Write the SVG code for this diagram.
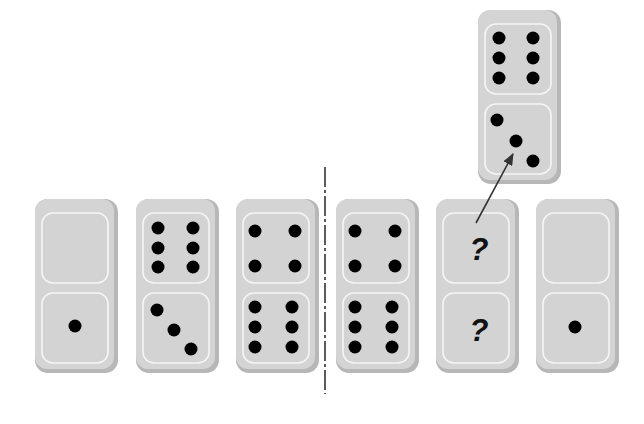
<svg xmlns="http://www.w3.org/2000/svg" xmlns:xlink="http://www.w3.org/1999/xlink" width="644" height="424" viewBox="0 0 644 424">
<style>
.panel{fill:#d3d3d3;stroke:#f5f5f5;stroke-width:1.6}
.pip{fill:#000}
.q{font-family:"Liberation Sans",Arial,sans-serif;font-weight:bold;font-style:italic;font-size:31px;fill:#111;text-anchor:middle}
.axis{stroke:#333;stroke-width:1.6;stroke-dasharray:20 3 3 3;fill:none}
.arrow{stroke:#333;stroke-width:1.6;fill:none}
</style>
<defs>
<g id="body">
<rect x="0" y="0" width="83" height="174" rx="13" fill="#b7b7b7"/>
<rect x="0" y="0" width="79" height="170" rx="12" fill="#d4d4d4"/>
<rect class="panel" x="7" y="14" width="66" height="70" rx="11"/>
<rect class="panel" x="7" y="94" width="66" height="70" rx="11"/>
</g>
<marker id="ah" markerWidth="12" markerHeight="10" refX="11" refY="5" orient="auto" markerUnits="userSpaceOnUse">
<path d="M0,0 L12,5 L0,10 Z" fill="#333"/>
</marker>
</defs>
<rect width="644" height="424" fill="#fff"/>

<g id="domino1" transform="translate(35,199)">
<use xlink:href="#body"/>
<circle class="pip" cx="40" cy="127" r="6.5"/>
</g>

<g id="domino2" transform="translate(136,199)">
<use xlink:href="#body"/>
<circle class="pip" cx="22" cy="29" r="6.5"/><circle class="pip" cx="57" cy="29" r="6.5"/>
<circle class="pip" cx="22" cy="49" r="6.5"/><circle class="pip" cx="57" cy="49" r="6.5"/>
<circle class="pip" cx="22" cy="68" r="6.5"/><circle class="pip" cx="57" cy="68" r="6.5"/>
<circle class="pip" cx="21" cy="111" r="6.5"/><circle class="pip" cx="38" cy="131" r="6.5"/><circle class="pip" cx="55" cy="150" r="6.5"/>
</g>

<g id="domino3" transform="translate(236,199)">
<use xlink:href="#body"/>
<circle class="pip" cx="19" cy="32" r="6.5"/><circle class="pip" cx="59" cy="32" r="6.5"/>
<circle class="pip" cx="19" cy="67" r="6.5"/><circle class="pip" cx="59" cy="67" r="6.5"/>
<circle class="pip" cx="19" cy="108" r="6.5"/><circle class="pip" cx="56" cy="108" r="6.5"/>
<circle class="pip" cx="19" cy="128" r="6.5"/><circle class="pip" cx="56" cy="128" r="6.5"/>
<circle class="pip" cx="19" cy="148" r="6.5"/><circle class="pip" cx="56" cy="148" r="6.5"/>
</g>

<g id="domino4" transform="translate(336,199)">
<use xlink:href="#body"/>
<circle class="pip" cx="19" cy="32" r="6.5"/><circle class="pip" cx="59" cy="32" r="6.5"/>
<circle class="pip" cx="19" cy="67" r="6.5"/><circle class="pip" cx="59" cy="67" r="6.5"/>
<circle class="pip" cx="19" cy="108" r="6.5"/><circle class="pip" cx="56" cy="108" r="6.5"/>
<circle class="pip" cx="19" cy="128" r="6.5"/><circle class="pip" cx="56" cy="128" r="6.5"/>
<circle class="pip" cx="19" cy="148" r="6.5"/><circle class="pip" cx="56" cy="148" r="6.5"/>
</g>

<g id="domino5" transform="translate(436,199)">
<use xlink:href="#body"/>
<text class="q" x="43" y="61">?</text>
<text class="q" x="43" y="142">?</text>
</g>

<g id="domino6" transform="translate(536,199)">
<use xlink:href="#body"/>
<circle class="pip" cx="39" cy="128" r="6.5"/>
</g>

<g id="domino-top" transform="translate(478,10)">
<use xlink:href="#body"/>
<circle class="pip" cx="21" cy="28" r="6.5"/><circle class="pip" cx="55" cy="28" r="6.5"/>
<circle class="pip" cx="21" cy="48" r="6.5"/><circle class="pip" cx="55" cy="48" r="6.5"/>
<circle class="pip" cx="21" cy="68" r="6.5"/><circle class="pip" cx="55" cy="68" r="6.5"/>
<circle class="pip" cx="19" cy="110" r="6.5"/><circle class="pip" cx="38" cy="131" r="6.5"/><circle class="pip" cx="55" cy="151" r="6.5"/>
</g>

<g id="connectors">
<line class="axis" x1="325" y1="167" x2="325" y2="394"/>
<line class="arrow" x1="476" y1="223" x2="513" y2="154" marker-end="url(#ah)"/>
</g>
</svg>
